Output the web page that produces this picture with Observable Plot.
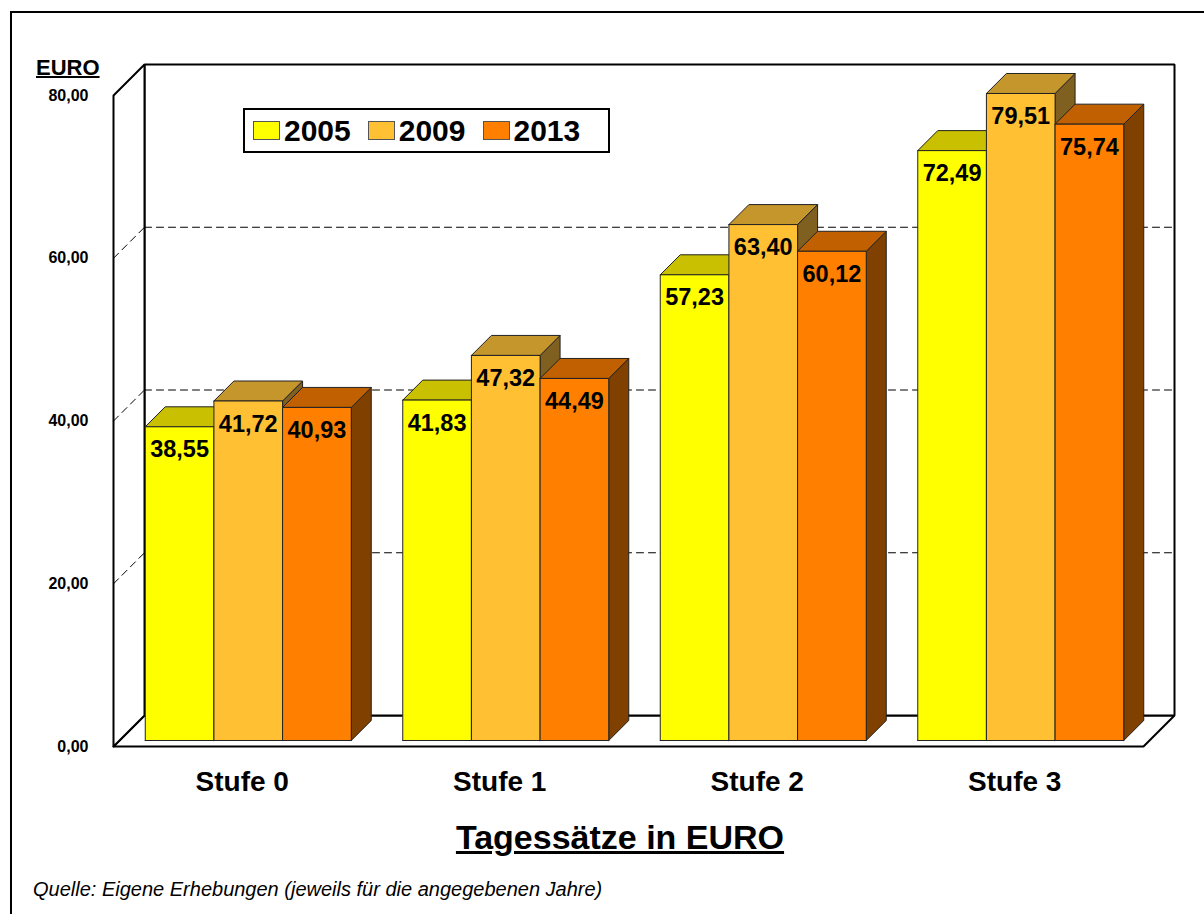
<!DOCTYPE html>
<html><head><meta charset="utf-8">
<script src="https://cdn.jsdelivr.net/npm/d3@7"></script>
<script src="https://cdn.jsdelivr.net/npm/@observablehq/plot@0.6"></script>
<style>
body{margin:0;background:#fff;font-family:"Liberation Sans",Arial,sans-serif;}
#wrap{position:relative;width:1204px;height:914px;overflow:hidden;background:#fff;}
#frame{position:absolute;left:10px;top:11px;width:1220px;height:940px;border:2px solid #000;box-sizing:border-box;}
#chart{position:absolute;left:0;top:0;}
#euro{position:absolute;left:36px;top:55px;font-size:22px;font-weight:bold;text-decoration:underline;text-decoration-thickness:2px;}
#legend{position:absolute;left:243px;top:108px;width:367px;height:45px;border:2px solid #000;box-sizing:border-box;background:#fff;display:flex;align-items:center;padding-left:8px;}
.li{display:flex;align-items:center;margin-right:17px;font-size:30px;font-weight:bold;}
.sw{width:27px;height:19px;border:1px solid #555;margin-right:4px;box-sizing:border-box;}
#title{position:absolute;left:0;width:1240px;top:818px;text-align:center;font-size:34px;font-weight:bold;text-decoration:underline;text-decoration-thickness:3px;}
#caption{position:absolute;left:33px;top:878px;font-size:20px;font-style:italic;}
</style></head><body>
<div id="wrap">
  <div id="frame"></div>
  <div id="chart"></div>
  <div id="euro">EURO</div>
  <div id="legend"></div>
  <div id="title">Tagessätze in EURO</div>
  <div id="caption">Quelle: Eigene Erhebungen (jeweils für die angegebenen Jahre)</div>
</div>
<script>
const categories = ["Stufe 0", "Stufe 1", "Stufe 2", "Stufe 3"];
const years = ["2005", "2009", "2013"];
const v2005 = [38.55, 41.83, 57.23, 72.49];
const v2009 = [41.72, 47.32, 63.40, 79.51];
const v2013 = [40.93, 44.49, 60.12, 75.74];
const yTicks = [0, 20, 40, 60, 80];
const gridValues = [20, 40, 60];
const frontColors = ["#FFFF00", "#FFC133", "#FF8000"];
const topColors = ["#C8C000", "#C4962C", "#C06000"];
const sideColors = ["#808000", "#806020", "#804000"];

const series = [v2005, v2009, v2013];
const fmt = v => d3.format(".2f")(v).replace(".", ",");

const W = 1204, H = 800, mL = 113, mR = W - 1143, mT = 95, mB = H - 746;
const yMax = 80, nCat = categories.length;
const pxPerX = (W - mL - mR) / nCat;
const pxPerY = (H - mT - mB) / yMax;
const DEPTH = 31, BAR_FRONT = 6, BAR_DEPTH = 20, GROUP = 0.8;
// oblique projection: a depth in pixels becomes an offset in data units
const P = (x, y, d) => ({x: x + d / pxPerX, y: y + d / pxPerY});

const poly = (id, fill, pts) => pts.concat([pts[0]]).map(p => ({id, fill, x: p.x, y: p.y}));

const walls = [
  ...poly("floor", "#fff", [P(0,0,0), P(nCat,0,0), P(nCat,0,DEPTH), P(0,0,DEPTH)]),
  ...poly("back", "#fff", [P(0,0,DEPTH), P(nCat,0,DEPTH), P(nCat,yMax,DEPTH), P(0,yMax,DEPTH)]),
  ...poly("side", "#fff", [P(0,0,0), P(0,yMax,0), P(0,yMax,DEPTH), P(0,0,DEPTH)])
];

const grid = [];
gridValues.forEach(v => {
  [P(0,v,DEPTH), P(nCat,v,DEPTH)].forEach(p => grid.push({id: "b" + v, ...p}));
  [P(0,v,0), P(0,v,DEPTH)].forEach(p => grid.push({id: "s" + v, ...p}));
});

const faces = [], labels = [];
const bw = GROUP / years.length;
categories.forEach((c, ci) => {
  years.forEach((yr, si) => {
    const v = series[si][ci];
    const x0 = ci + (1 - GROUP) / 2 + si * bw, x1 = x0 + bw;
    const f = BAR_FRONT, b = BAR_FRONT + BAR_DEPTH;
    const id = c + yr;
    faces.push(...poly(id + "s", sideColors[si], [P(x1,0,f), P(x1,0,b), P(x1,v,b), P(x1,v,f)]));
    faces.push(...poly(id + "t", topColors[si], [P(x0,v,f), P(x1,v,f), P(x1,v,b), P(x0,v,b)]));
    faces.push(...poly(id + "f", frontColors[si], [P(x0,0,f), P(x1,0,f), P(x1,v,f), P(x0,v,f)]));
    const lp = P((x0 + x1) / 2, v, f);
    labels.push({x: lp.x, y: lp.y, text: fmt(v)});
  });
});

const chart = Plot.plot({
  width: W, height: H,
  marginLeft: mL, marginRight: mR, marginTop: mT, marginBottom: mB,
  x: {domain: [0, nCat]},
  y: {domain: [0, yMax]},
  color: {type: "identity"},
  style: {fontFamily: "'Liberation Sans', Arial, sans-serif", overflow: "visible", background: "transparent", color: "#000"},
  marks: [
    Plot.line(walls, {x: "x", y: "y", z: "id", fill: "fill", stroke: "#000", strokeWidth: 2, strokeLinejoin: "miter"}),
    Plot.line(grid, {x: "x", y: "y", z: "id", stroke: "#000", strokeWidth: 1, strokeDasharray: "7,5"}),
    Plot.line(faces, {x: "x", y: "y", z: "id", fill: "fill", stroke: "#222", strokeWidth: 1}),
    Plot.text(labels, {x: "x", y: "y", text: "text", dy: 23, fontSize: 23.5, fontWeight: "bold", fill: "#000"}),
    Plot.axisY({ticks: yTicks, tickFormat: fmt, tickSize: 0, tickPadding: 25, fontSize: 16, fontWeight: "bold", label: null}),
    Plot.axisX({ticks: categories.map((c, i) => i + 0.5), tickFormat: d => categories[Math.round(d - 0.5)], tickSize: 0, tickPadding: 25, fontSize: 28, fontWeight: "bold", label: null})
  ]
});
document.getElementById("chart").appendChild(chart);

const legend = document.getElementById("legend");
years.forEach((yr, i) => {
  const item = document.createElement("div");
  item.className = "li";
  const sw = document.createElement("div");
  sw.className = "sw";
  sw.style.background = frontColors[i];
  item.appendChild(sw);
  item.appendChild(document.createTextNode(yr));
  legend.appendChild(item);
});
</script>
</body></html>
